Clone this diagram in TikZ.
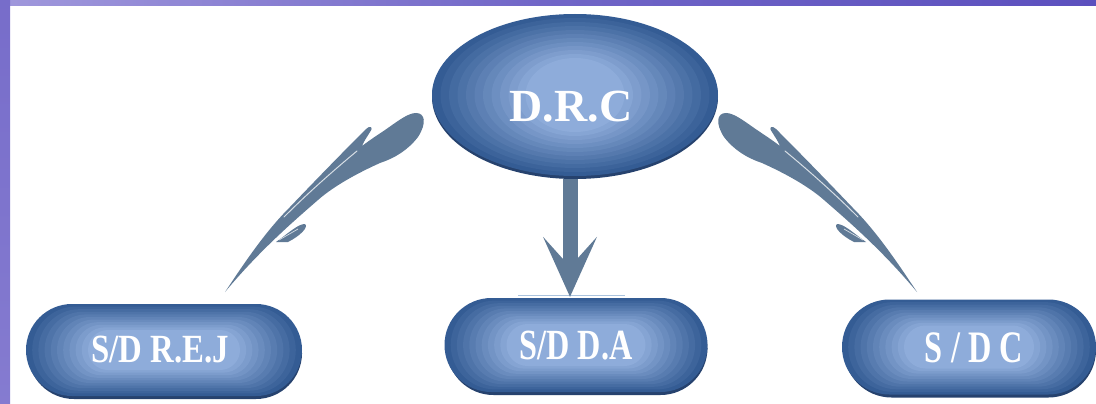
\documentclass[tikz,border=0pt]{standalone}
\usepackage{fontspec}
\setmainfont{Liberation Serif}
\usetikzlibrary{arrows.meta,shapes.geometric,calc}
\definecolor{outerb}{RGB}{52,92,148}
\definecolor{innerb}{RGB}{142,172,218}
\definecolor{shadowb}{RGB}{38,66,110}
\definecolor{slate}{RGB}{96,122,150}
\definecolor{lav}{RGB}{160,152,220}
\definecolor{violet}{RGB}{92,80,190}
\definecolor{hair}{RGB}{170,195,222}
\newcommand\mypillbg[4]{% cx, cy, w, h
  \pgfmathsetmacro\shh{#4/2}
  \fill[shadowb, rounded corners=\shh pt] ({#1-#3/2+2},{#2-#4/2+4}) rectangle ({#1+#3/2},{#2+#4/2+3});
  \foreach \i in {0,...,10}{
    \pgfmathsetmacro\p{\i*10}
    \pgfmathsetmacro\hw{#3/2-\i*6.2}
    \pgfmathsetmacro\hh{#4/2-\i*2.6}
    \fill[innerb!\p!outerb, rounded corners=\hh pt] ({#1-\hw},{#2-\hh}) rectangle ({#1+\hw},{#2+\hh});
  }}
\newcommand\myswoosh{%
  \fill[swoosh] (225,292) .. controls (245,262) and (265,232) .. (290,207)
    .. controls (310,186) and (340,155) .. (366,129)
    .. controls (370,125) and (374,127) .. (370,132)
    .. controls (367,137) and (364,141) .. (362,146)
    .. controls (370,140) and (376,136) .. (385,130)
    .. controls (398,121) and (408,113) .. (416,113)
    .. controls (425,113) and (427,123) .. (418,137)
    .. controls (408,150) and (395,158) .. (380,163)
    .. controls (360,172) and (335,185) .. (318,200)
    .. controls (295,220) and (260,250) .. cycle;
  \draw[white!75!slate, line width=1pt, line cap=round] (284,217) .. controls (308,193) and (334,170) .. (357,151);
  \fill[swoosh] (276,242) .. controls (290,232) and (298,224) .. (305,224)
    .. controls (309,227) and (300,236) .. (288,242) -- cycle;
  \draw[white!75!slate, line width=0.7pt] (279,240) -- (298,229);
}
\tikzset{
  lbl/.style={text=white, font=\bfseries, inner sep=0pt},
  pillnode/.style={rectangle, inner sep=0pt},
  swoosh/.style={fill=slate, draw=none},
}
\begin{document}
\begin{tikzpicture}[x=1pt,y=-1pt]
\useasboundingbox (0,0) rectangle (1096,404);
\fill[white] (0,0) rectangle (1096,404);
% frame
\shade[left color=lav, right color=violet, middle color=violet!70!lav] (0,0) rectangle (1096,6);
\shade[top color=violet!60!lav, bottom color=violet!40!lav] (0,0) rectangle (10,404);
% ellipse background
\fill[shadowb] (575,97) ellipse [x radius=143, y radius=82];
\foreach \i in {0,...,11}{
  \pgfmathsetmacro\p{\i*100/11}
  \fill[innerb!\p!outerb] (575,95) ellipse [x radius={143-\i*8.5}, y radius={81-\i*4}];
}
% pill backgrounds
\mypillbg{164}{350}{276}{92}
\mypillbg{576}{345}{263}{94}
\mypillbg{969}{347}{254}{95}
% nodes
\node[ellipse, minimum width=286pt, minimum height=164pt, inner sep=0pt] (drc) at (575,95) {};
\node[lbl, font=\bfseries\fontsize{46}{50}\selectfont] (drct) at (571,107) {D.R.C};
\node[pillnode, minimum width=276pt, minimum height=92pt] (sdrej) at (164,350) {};
\node[lbl, font=\bfseries\fontsize{40}{44}\selectfont] at (160,350) {\scalebox{0.82}[1]{S/D R.E.J}};
\node[pillnode, minimum width=263pt, minimum height=94pt] (sdda) at (576,345) {};
\node[lbl, font=\bfseries\fontsize{43}{46}\selectfont] at (576,346) {\scalebox{0.75}[1]{S/D D.A}};
\node[pillnode, minimum width=254pt, minimum height=95pt] (sdc) at (969,347) {};
\node[lbl, font=\bfseries\fontsize{45}{50}\selectfont] at (974,348) {\scalebox{0.72}[1]{S / D C}};
% thin line above middle pill
\coordinate (h1) at (518,295);
\coordinate (h2) at (625,295);
\draw[hair, line width=1pt] (h1) -- (h2);
% down arrow
\draw[slate, line width=15pt, -{Stealth[length=60pt, width=54pt, inset=30pt, line width=0pt]}]
  ([xshift=-5pt,yshift=-2pt]drc.south) -- ([xshift=-6pt,yshift=1pt]sdda.north);
% left swoosh
\myswoosh
% right swoosh (mirror)
\begin{scope}[xshift=1142pt, xscale=-1]
\myswoosh
\end{scope}
\end{tikzpicture}
\end{document}
